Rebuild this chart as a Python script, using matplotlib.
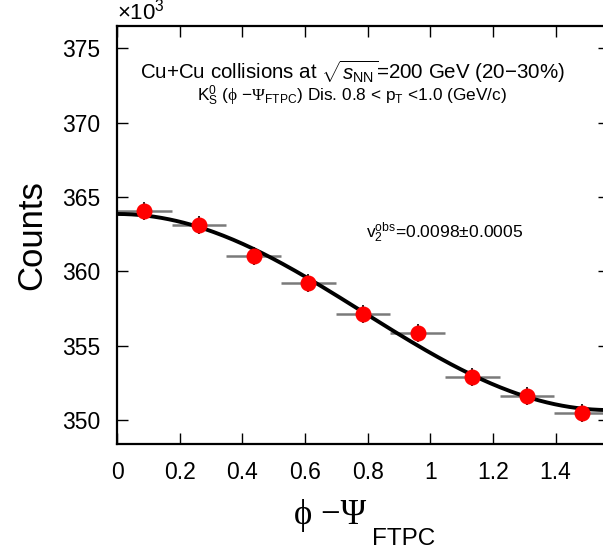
import matplotlib
matplotlib.use('Agg')
import matplotlib.pyplot as plt
import numpy as np

plt.rcParams['font.family'] = ['Liberation Sans', 'DejaVu Sans']
plt.rcParams['mathtext.fontset'] = 'custom'
plt.rcParams['mathtext.rm'] = 'Liberation Sans'
plt.rcParams['mathtext.it'] = 'Liberation Sans:italic'
plt.rcParams['mathtext.sf'] = 'Liberation Sans'
plt.rcParams['mathtext.cal'] = 'Liberation Serif'

# data (counts in units of 10^3)
bin_centers = [0.0873, 0.2618, 0.4363, 0.6109, 0.7854, 0.9599, 1.1345, 1.3090, 1.4835]
bin_halfwidth = [0.0873] * 9
counts = [364.07, 363.1, 361.04, 359.2, 357.15, 355.85, 352.9, 351.65, 350.5]
count_err = [0.6] * 9

x = np.array(bin_centers)
y = np.array(counts)

# fit A*(1 + 2 v2 cos(2x)) to the points
M = np.column_stack([np.ones_like(x), np.cos(2 * x)])
coef = np.linalg.lstsq(M, y, rcond=None)[0]
xf = np.linspace(0, np.pi / 2, 200)
yf = coef[0] + coef[1] * np.cos(2 * xf)

fig = plt.figure(figsize=(6.03, 5.58), dpi=100)
ax = fig.add_axes([117 / 603, 114 / 558, 492 / 603, 418 / 558])

# error bars: horizontal gray, vertical black
ax.errorbar(x, y, xerr=bin_halfwidth, fmt='none',
            ecolor='#7a7a7a', elinewidth=1.8, capsize=0, zorder=2)
ax.errorbar(x, y, yerr=count_err, fmt='none',
            ecolor='black', elinewidth=1.2, capsize=0, zorder=2)
ax.plot(xf, yf, color='black', lw=2.8, zorder=3)
ax.plot(x, y, 'o', color='red', markersize=10.5, zorder=4)

ax.set_xlim(0, np.pi / 2)
ax.set_ylim(348.4, 376.5)
ax.set_xticks(np.arange(0, 1.5, 0.2))
ax.set_xticklabels(['0', '0.2', '0.4', '0.6', '0.8', '1', '1.2', '1.4'])
ax.set_yticks([350, 355, 360, 365, 370, 375])
ax.tick_params(direction='in', length=8, width=1, labelsize=16.5,
               top=True, right=True, pad=12)
ax.tick_params(axis='y', pad=12)
for s in ax.spines.values():
    s.set_linewidth(1.6)

ax.set_ylabel('Counts', fontsize=25, labelpad=10)

# x label: serif greek with a low sans subscript (ROOT style)
fig.text(330 / 603, 1 - 516 / 558, '\u03d5 \u2212\u03a8', family='Liberation Serif',
         fontsize=25, ha='center', va='center')
fig.text(372 / 603, 1 - 539 / 558, 'FTPC', fontsize=17.5, ha='left', va='center')

fig.text(117 / 603, 1 - 12 / 558, r'$\times10^{3}$', fontsize=16, ha='left', va='center')

fig.text(352 / 603, 1 - 72 / 558, r'Cu+Cu collisions at $\sqrt{s_{\mathrm{NN}}}$=200 GeV (20$-$30%)',
         fontsize=14.8, ha='center', va='center')
fig.text(352 / 603, 1 - 96 / 558,
         r'K$_{\mathrm{S}}^{0}$ ($\mathcal{\phi}$ $-\mathcal{\Psi}_{\mathrm{FTPC}}$) Dis. 0.8 < p$_{\mathrm{T}}$ <1.0 (GeV/c)',
         fontsize=12.4, ha='center', va='center')
fig.text(366 / 603, 1 - 233 / 558, r'v$_{2}^{\mathrm{obs}}$=0.0098$\pm$0.0005',
         fontsize=12.6, ha='left', va='center')

plt.savefig('out.png', dpi=100)
